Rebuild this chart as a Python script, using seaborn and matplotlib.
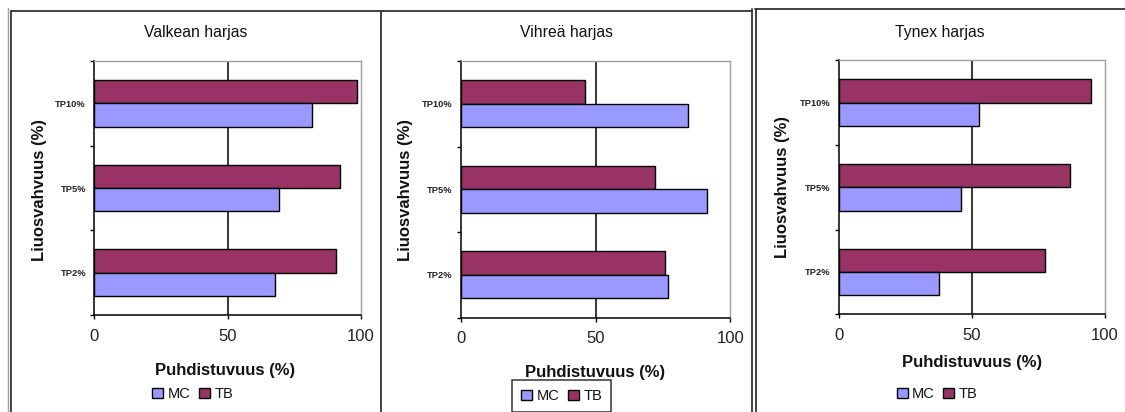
import matplotlib
matplotlib.use("Agg")
import numpy as np
import pandas as pd
import seaborn as sns
import matplotlib.pyplot as plt
from matplotlib.lines import Line2D
from matplotlib.patches import Patch

# ---- data ----
categories = ["TP10%", "TP5%", "TP2%"]
series = ["MC", "TB"]
panel_titles = ["Valkean harjas", "Vihreä harjas", "Tynex harjas"]
valkean_mc = [81.7, 69.4, 67.6]
valkean_tb = [98.4, 92.1, 90.5]
vihrea_mc = [84.4, 91.5, 77.0]
vihrea_tb = [46.0, 72.0, 75.7]
tynex_mc = [52.8, 45.8, 37.7]
tynex_tb = [94.6, 86.9, 77.6]
x_ticks = [0, 50, 100]
xlabel = "Puhdistuvuus (%)"
ylabel = "Liuosvahvuus (%)"

panel_mc = [valkean_mc, vihrea_mc, tynex_mc]
panel_tb = [valkean_tb, vihrea_tb, tynex_tb]
palette = {"MC": "#9999FF", "TB": "#993366"}

sns.set_theme(style="white")
plt.rcParams['font.family'] = ['Liberation Sans', 'DejaVu Sans']

W, H = 1125, 412
fig = plt.figure(figsize=(W / 100, H / 100), dpi=100)
fig.patch.set_facecolor("white")


def fx(px):
    return px / W


def fy(py):
    return 1 - py / H


# plot-area pixel boxes (left, top, right, bottom)
axes_px = [(94.3, 61, 361, 315), (461, 61, 730.3, 317.5), (838.7, 60.3, 1105, 314.3)]
panel_centers = [195.5, 566.5, 940]
xlabel_x = [225, 595.5, 972]
xlabel_y = [370, 373, 363]
ylabel_x = [39, 406, 783]
ylabel_y = [190, 190, 187]
legend_y = 394
legend_cx = [192.5, 561.5, 937]

for i in range(3):
    l, t, r, b = axes_px[i]
    ax = fig.add_axes([fx(l), fy(b), fx(r) - fx(l), (b - t) / H])
    df = pd.DataFrame({
        "cat": categories * 2,
        "series": ["MC"] * 3 + ["TB"] * 3,
        "val": list(panel_mc[i]) + list(panel_tb[i]),
    })
    sns.barplot(data=df, y="cat", x="val", hue="series", hue_order=["TB", "MC"],
                order=categories, palette=palette, width=0.55, saturation=1,
                edgecolor="black", linewidth=1.0, legend=False, ax=ax, orient="h")
    ax.axvline(50, color="black", lw=1.1, zorder=0.5)
    ax.set_xlim(0, 100)
    ax.set_ylim(2.5, -0.5)
    ax.set_xticks(x_ticks)
    ax.set_xticklabels([str(v) for v in x_ticks], fontsize=12, color="#222222")
    ax.tick_params(axis="x", direction="out", length=3, width=1, color="black", pad=7,
                   bottom=True)
    ax.set_yticks(range(len(categories)))
    ax.set_yticklabels(categories, fontsize=6.7, fontweight="bold", color="#222222")
    ax.tick_params(axis="y", which="major", length=0, pad=6)
    ax.set_yticks([-0.5, 0.5, 1.5, 2.5], minor=True)
    ax.tick_params(axis="y", which="minor", direction="out", length=3, width=1,
                   color="black", left=True)
    for s in ["left", "bottom"]:
        ax.spines[s].set_color("black")
        ax.spines[s].set_linewidth(1.1)
    for s in ["top", "right"]:
        ax.spines[s].set_color("#A0A0A0")
        ax.spines[s].set_linewidth(1.0)
    ax.set_xlabel(xlabel, fontsize=12, fontweight="bold", color="#111111")
    ax.set_ylabel(ylabel, fontsize=12, fontweight="bold", color="#111111")
    ax.xaxis.label.set_va("center")
    ax.yaxis.label.set_va("center")
    ax.xaxis.set_label_coords((fx(xlabel_x[i]) - fx(l)) / (fx(r) - fx(l)),
                              (fy(xlabel_y[i]) - fy(b)) / ((b - t) / H))
    ax.yaxis.set_label_coords((fx(ylabel_x[i]) - fx(l)) / (fx(r) - fx(l)),
                              (fy(ylabel_y[i]) - fy(b)) / ((b - t) / H))
    ax.set_facecolor("white")

    fig.text(fx(panel_centers[i]), fy(33), panel_titles[i], ha="center", va="center",
             fontsize=11.3, color="#111111")

    handles = [Patch(facecolor=palette[s], edgecolor="black", linewidth=1.0) for s in series]
    leg = fig.legend(handles, series, loc="center",
                     bbox_to_anchor=(fx(legend_cx[i]), fy(legend_y + (2 if i == 1 else 0))),
                     ncol=2, frameon=(i == 1), fancybox=False, fontsize=10.5,
                     handlelength=0.75, handleheight=0.75, handletextpad=0.3,
                     columnspacing=0.6, borderpad=0.65 if i == 1 else 0.35,
                     borderaxespad=0)
    if i == 1:
        leg.get_frame().set_edgecolor("black")
        leg.get_frame().set_linewidth(1.1)
    for txt in leg.get_texts():
        txt.set_color("#111111")

# ---- panel frames ----
def vline(x, y0, y1, color="#333333", lw=1.3):
    fig.add_artist(Line2D([fx(x), fx(x)], [fy(y0), fy(y1)], color=color, lw=lw,
                          transform=fig.transFigure))


def hline(y, x0, x1, color="#333333", lw=1.3):
    fig.add_artist(Line2D([fx(x0), fx(x1)], [fy(y), fy(y)], color=color, lw=lw,
                          transform=fig.transFigure))

vline(7.5, 8, 412, color="#A0A0A0", lw=1.0)
vline(11, 11, 412)
hline(11, 11, 752)
vline(381, 11, 412)
vline(752, 9, 412)
vline(755.5, 9, 412)
hline(9.3, 755, 1125)

fig.savefig("out.png", dpi=100, facecolor="white")
